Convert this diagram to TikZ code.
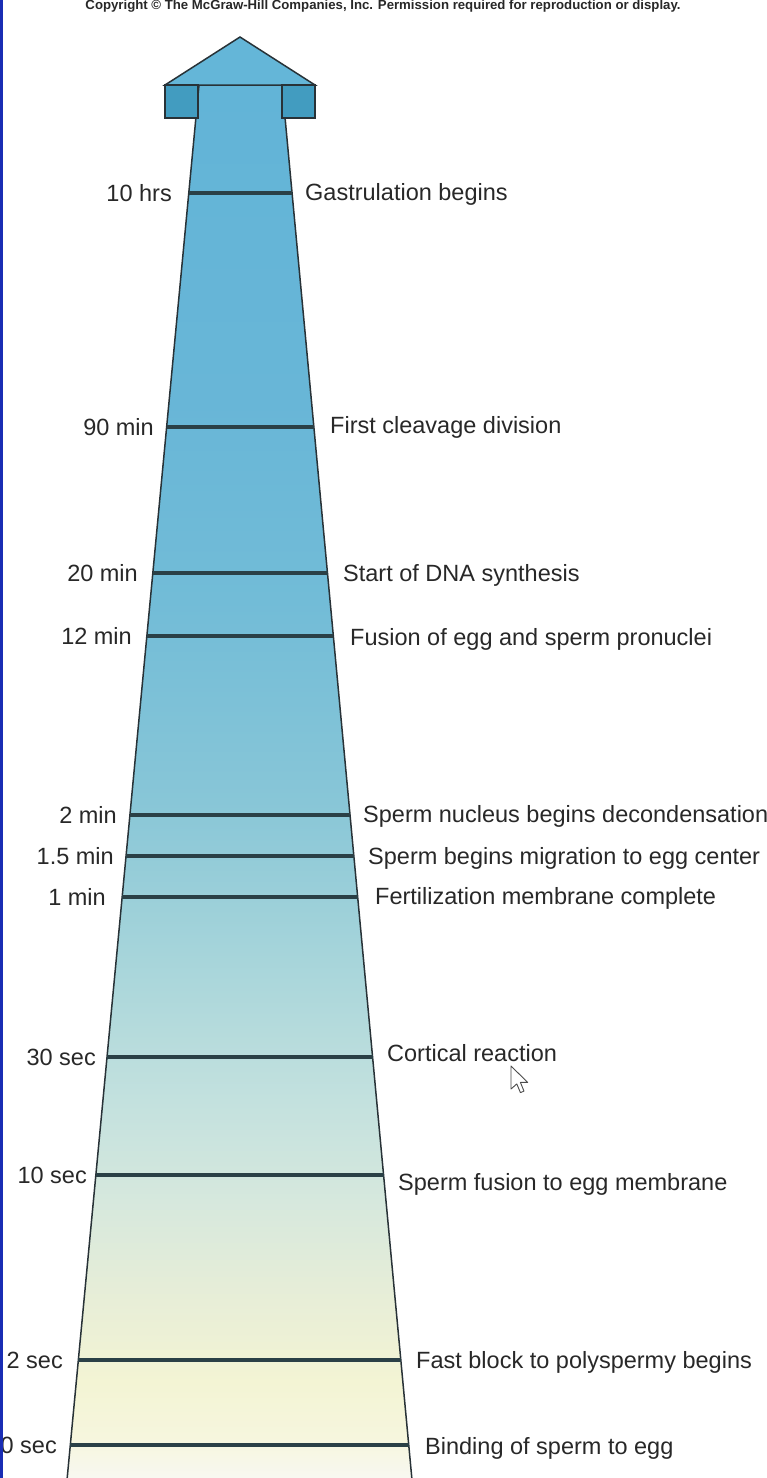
\documentclass[tikz,border=0pt]{standalone}
\usepackage{fontspec}
\setmainfont{Liberation Sans}
\definecolor{c0}{RGB}{248,248,242}
\definecolor{c1}{RGB}{246,246,222}
\definecolor{c2}{RGB}{243,244,212}
\definecolor{c3}{RGB}{232,238,215}
\definecolor{c4}{RGB}{214,232,221}
\definecolor{c5}{RGB}{195,225,222}
\definecolor{c6}{RGB}{165,212,218}
\definecolor{c7}{RGB}{136,198,215}
\definecolor{c8}{RGB}{114,188,215}
\definecolor{c9}{RGB}{104,182,215}
\definecolor{c10}{RGB}{98,180,215}
\definecolor{headblue}{RGB}{100,182,216}
\definecolor{boxblue}{RGB}{66,156,192}
\definecolor{outline}{RGB}{40,50,55}
\definecolor{tickcol}{RGB}{42,64,70}
\definecolor{txt}{RGB}{40,40,40}
\definecolor{border}{RGB}{25,45,180}
\pgfdeclareverticalshading{shaftshade}{100bp}{color(0bp)=(c0); color(25bp)=(c0); color(26.4bp)=(c1); color(28.5bp)=(c2); color(31.4bp)=(c3); color(35bp)=(c4); color(38.6bp)=(c5); color(44bp)=(c6); color(49.3bp)=(c7); color(56.5bp)=(c8); color(63.7bp)=(c9); color(75bp)=(c10); color(100bp)=(c10)}
\tikzset{
  lab/.style={inner sep=0pt, text=txt, font=\fontsize{23.5}{28}\selectfont},
  tickline/.style={draw=tickcol, line width=3.3pt},
  edge/.style={draw=outline, line width=1.5pt, line join=miter},
}
\begin{document}
\begin{tikzpicture}[x=1pt,y=-1pt]
\useasboundingbox (0,0) rectangle (766,1478);
\clip (0,0) rectangle (766,1478);
\fill[white] (0,0) rectangle (766,1478);
% shaft
\path[shading=shaftshade, edge] (199,85) -- (282,85) -- (412,1480) -- (67,1480) -- cycle;
% head
\filldraw[fill=headblue, edge] (165,85) -- (240,37) -- (315,85) -- cycle;
\filldraw[fill=boxblue, edge] (165,85) rectangle (198,118);
\filldraw[fill=boxblue, edge] (282,85) rectangle (315,118);
% ticks and labels
\foreach \n/\y/\lx/\lt/\rx/\ry/\rt in {
 1/193/172/10 hrs/305/192/Gastrulation begins,
 2/427/154/90 min/330/425/First cleavage division,
 3/573/138/20 min/343/573/Start of DNA synthesis,
 4/636/132/12 min/350/637/Fusion of egg and sperm pronuclei,
 5/815/117/2 min/363/814/Sperm nucleus begins decondensation,
 6/856/114/1.5 min/368/856/Sperm begins migration to egg center,
 7/897/106/1 min/375/896/Fertilization membrane complete,
 8/1057/96/30 sec/387/1053/Cortical reaction,
 9/1175/87/10 sec/398/1182/Sperm fusion to egg membrane,
 10/1360/63/2 sec/416/1360/Fast block to polyspermy begins,
 11/1445/57/0 sec/425/1446/Binding of sperm to egg}{
  \pgfmathsetmacro\xl{199-0.0948*(\y-85)}
  \pgfmathsetmacro\xr{282+0.0933*(\y-85)}
  \coordinate (L\n) at (\xl,\y);
  \coordinate (R\n) at (\xr,\y);
  \draw[tickline] (L\n) -- (R\n);
  \node[lab, anchor=base east] (tl\n) at (\lx,\y+8.5) {\lt};
  \node[lab, anchor=base west] (tr\n) at (\rx,\ry+8.5) {\rt};
}
% copyright
\node[inner sep=0pt, anchor=base, text=txt] (copy) at (383,9.5)
  {\resizebox{595pt}{!}{\bfseries\fontsize{11.5}{13}\selectfont Copyright \textcopyright{} The McGraw-Hill Companies, Inc. Permission required for reproduction or display.}};
% cursor
\filldraw[fill=white, draw=black!70, line width=0.9pt, line join=round]
  (511,1066) -- ++(0,23) -- ++(5.8,-5.1) -- ++(3.6,8.7) -- ++(3.6,-1.5) -- ++(-3.6,-8.7) -- ++(7.3,0) -- cycle;
% left border
\draw[border, line width=3pt] (1.2,0) -- (1.2,1478);
\end{tikzpicture}
\end{document}
